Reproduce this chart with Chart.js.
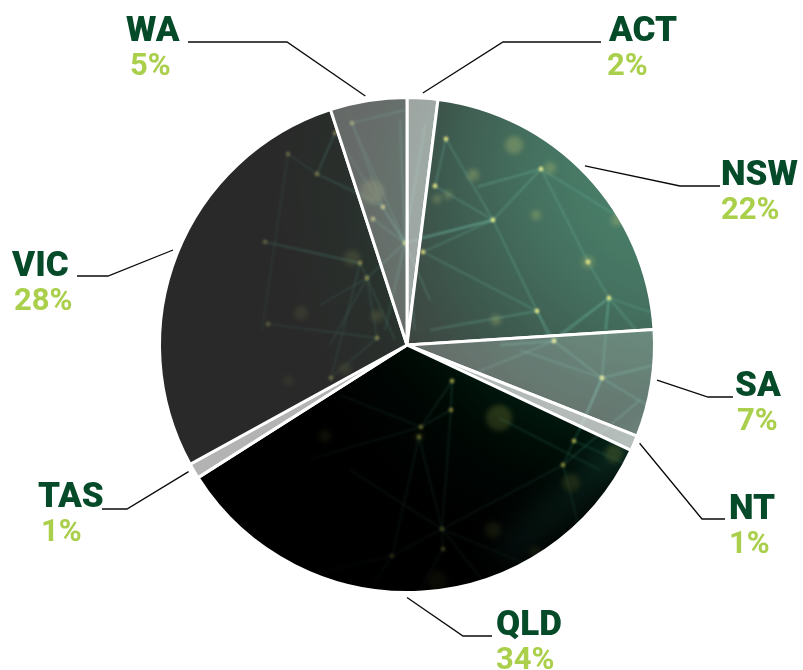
<!DOCTYPE html>
<html>
<head>
<meta charset="utf-8">
<title>Pie</title>
<style>
  html, body { margin: 0; padding: 0; background: #fff; }
  canvas { display: block; }
</style>
<script src="https://cdn.jsdelivr.net/npm/chart.js@4/dist/chart.umd.min.js"></script>
</head>
<body>
<canvas id="myChart" width="803" height="670"></canvas>
<script>
// Data
const states = ["ACT", "NSW", "SA", "NT", "QLD", "TAS", "VIC", "WA"];
const shares = [2, 22, 7, 1, 34, 1, 28, 5];
const whiteVeil = [0.62, 0.24, 0.4, 0.7, 0, 0.7, 0.16, 0.4];

// Label layout: elbow of the leader, end of the leader, left edge of name and percent, name baseline
const elbowX = [503, 680, 708, 702, 463, 127, 108, 287];
const elbowY = [42, 186, 397, 519, 636, 509, 276, 42];
const leaderEndX = [601, 720, 733, 725, 492, 102, 77, 188];
const nameX = [609, 721, 735, 729, 496, 38, 12, 126];
const percentX = [607, 721, 737, 729, 496, 41, 14, 130];
const nameY = [41, 185, 396, 519, 635, 507, 276, 41];
const leaderNudge = [0, -2, -1, -0.5, 3.6, 0.5, 0.5, -0.5];

// Background texture: the network picture behind the slices
const glows = [
  [514,145,9],[550,168,6],[473,175,6],[536,215,5],[588,262,6],[617,220,6],[496,320,5],[448,195,4],[437,199,4],
  [499,418,13],[614,454,9],[571,483,9],[493,530,8],[535,552,6],[437,581,10],[325,436,6],[419,437,4],
  [372,192,12],[352,258,8],[301,313,7],[377,316,6],[345,369,6],[288,381,5]
];
const nodes = {
  a:[446,139],b:[435,186],d:[493,220],e:[541,169],g:[588,262],h:[609,298],i:[537,311],j:[554,341],l:[423,252],
  m:[405,243],q:[602,378],r:[452,381],s:[451,410],t:[421,427],u:[419,437],v:[574,441],w:[563,465],x:[442,529],
  y:[392,556],z:[443,549],n1:[352,123],n2:[335,133],n3:[288,154],n4:[317,174],n5:[383,207],n6:[373,219],
  n7:[360,263],n8:[367,278],n9:[377,338],n10:[331,378],n11:[268,324],n12:[265,242]
};
const links = [
  "a-d","b-d","e-d","d-i","e-g","g-h","l-i","l-d","m-d","a-b","i-j","h-j","h-q","j-q","r-t","r-s","s-t","s-x",
  "u-x","u-y","w-x","w-v","x-y","x-z","v-q","n1-n5","n3-n4","n4-n2","n4-n5","n5-m","n6-m",
  "n7-n8","n8-n9","n8-m","n7-n12","n9-n11","n9-n10","n10-n7","n2-n4"
];
const extraLines = [
  [541,169,477,187],[420,238,493,220],[430,330,537,311],[537,311,548,335],[560,334,609,298],[609,298,650,312],[609,298,605,330],
  [609,298,636,330],[602,378,655,365],[602,378,580,430],[602,378,655,410],[574,441,640,470],[563,465,580,530],[442,529,490,590],
  [442,529,540,570],[392,556,310,575],[443,549,420,590],[392,556,370,590],[563,465,640,400],[499,418,600,470],[541,169,640,230],
  [554,341,470,375],[554,341,500,345],[602,378,520,350],[405,243,352,123],[405,243,335,133],[405,243,400,120],[405,243,425,125],
  [405,243,415,330],[405,243,430,300],[405,243,385,330],[367,278,320,305],[367,278,330,345],[367,278,395,340],[288,154,262,330],
  [265,242,360,263],[317,174,375,200],[352,123,405,110],[421,427,310,459],[421,427,340,395],[442,529,350,470]
];

function buildTexture() {
  const c = document.createElement("canvas");
  c.width = 803;
  c.height = 670;
  const g = c.getContext("2d");
  g.fillStyle = "#000";
  g.fillRect(0, 0, 803, 670);

  const haze = g.createRadialGradient(670, 170, 0, 670, 170, 430);
  haze.addColorStop(0, "rgb(20,100,68)");
  haze.addColorStop(0.3, "rgb(12,72,48)");
  haze.addColorStop(0.55, "rgb(0,36,22)");
  haze.addColorStop(0.72, "rgb(0,20,10)");
  haze.addColorStop(0.87, "rgb(0,9,4)");
  haze.addColorStop(1, "rgba(0,0,0,0)");
  g.fillStyle = haze;
  g.fillRect(0, 0, 803, 670);

  // soft teal streak in the lower right
  g.filter = "blur(14px)";
  g.strokeStyle = "rgba(30,105,90,0.5)";
  g.lineWidth = 30;
  g.beginPath();
  g.moveTo(655, 425);
  g.lineTo(500, 560);
  g.stroke();
  g.filter = "blur(0.8px)";

  g.strokeStyle = "rgba(75,180,150,0.4)";
  g.lineWidth = 1.3;
  links.forEach((l) => {
    const [p, q] = l.split("-");
    g.beginPath();
    g.moveTo(nodes[p][0], nodes[p][1]);
    g.lineTo(nodes[q][0], nodes[q][1]);
    g.stroke();
  });
  extraLines.forEach((l) => {
    g.beginPath();
    g.moveTo(l[0], l[1]);
    g.lineTo(l[2], l[3]);
    g.stroke();
  });

  g.filter = "blur(2.5px)";
  glows.forEach((p) => {
    g.fillStyle = "rgba(150,165,70,0.36)";
    g.beginPath();
    g.arc(p[0], p[1], p[2], 0, Math.PI * 2);
    g.fill();
  });
  g.filter = "blur(0.8px)";
  Object.values(nodes).forEach((p) => {
    g.fillStyle = "rgba(225,225,95,0.9)";
    g.beginPath();
    g.arc(p[0], p[1], 2.4, 0, Math.PI * 2);
    g.fill();
  });
  g.filter = "none";

  // the network fades out towards the lower left
  const fade = g.createRadialGradient(630, 210, 190, 630, 210, 500);
  fade.addColorStop(0, "rgba(0,0,0,0)");
  fade.addColorStop(0.3, "rgba(0,0,0,0.55)");
  fade.addColorStop(0.7, "rgba(0,0,0,0.8)");
  fade.addColorStop(1, "rgba(0,0,0,1)");
  g.fillStyle = fade;
  g.fillRect(0, 0, 803, 670);
  return c;
}

function buildFill(texture, veil) {
  const c = document.createElement("canvas");
  c.width = 803;
  c.height = 670;
  const g = c.getContext("2d");
  g.drawImage(texture, 0, 0);
  g.fillStyle = "rgba(255,255,255," + veil + ")";
  g.fillRect(0, 0, 803, 670);
  return g.createPattern(c, "no-repeat");
}

// Leader lines and the state / percent text
const calloutPlugin = {
  id: "callouts",
  afterDatasetsDraw(chart) {
    const ctx = chart.ctx;
    const arcs = chart.getDatasetMeta(0).data;
    ctx.save();
    arcs.forEach((arc, i) => {
      const angle = (arc.startAngle + arc.endAngle) / 2 + leaderNudge[i] * Math.PI / 180;
      const r = arc.outerRadius + 5;
      ctx.strokeStyle = "#0a0a0a";
      ctx.lineWidth = 1.3;
      ctx.beginPath();
      ctx.moveTo(arc.x + Math.cos(angle) * r, arc.y + Math.sin(angle) * r);
      ctx.lineTo(elbowX[i], elbowY[i]);
      ctx.lineTo(leaderEndX[i], elbowY[i]);
      ctx.stroke();

      ctx.textAlign = "left";
      ctx.textBaseline = "alphabetic";
      ctx.fillStyle = "#054a29";
      ctx.font = "900 35px Roboto";
      ctx.fillText(states[i], nameX[i], nameY[i]);
      ctx.fillStyle = "#a9cf4b";
      ctx.font = "700 31px Roboto";
      ctx.fillText(shares[i] + "%", percentX[i], nameY[i] + 34);
    });
    ctx.restore();
  }
};

const texture = buildTexture();
new Chart(document.getElementById("myChart"), {
  type: "pie",
  data: {
    labels: states,
    datasets: [{
      data: shares,
      backgroundColor: whiteVeil.map((v) => buildFill(texture, v)),
      borderColor: "#fff",
      borderWidth: 3
    }]
  },
  options: {
    responsive: false,
    animation: false,
    layout: { padding: { left: 158, right: 147, top: 96, bottom: 76 } },
    plugins: { legend: { display: false }, tooltip: { enabled: false } }
  },
  plugins: [calloutPlugin]
});
</script>
</body>
</html>
